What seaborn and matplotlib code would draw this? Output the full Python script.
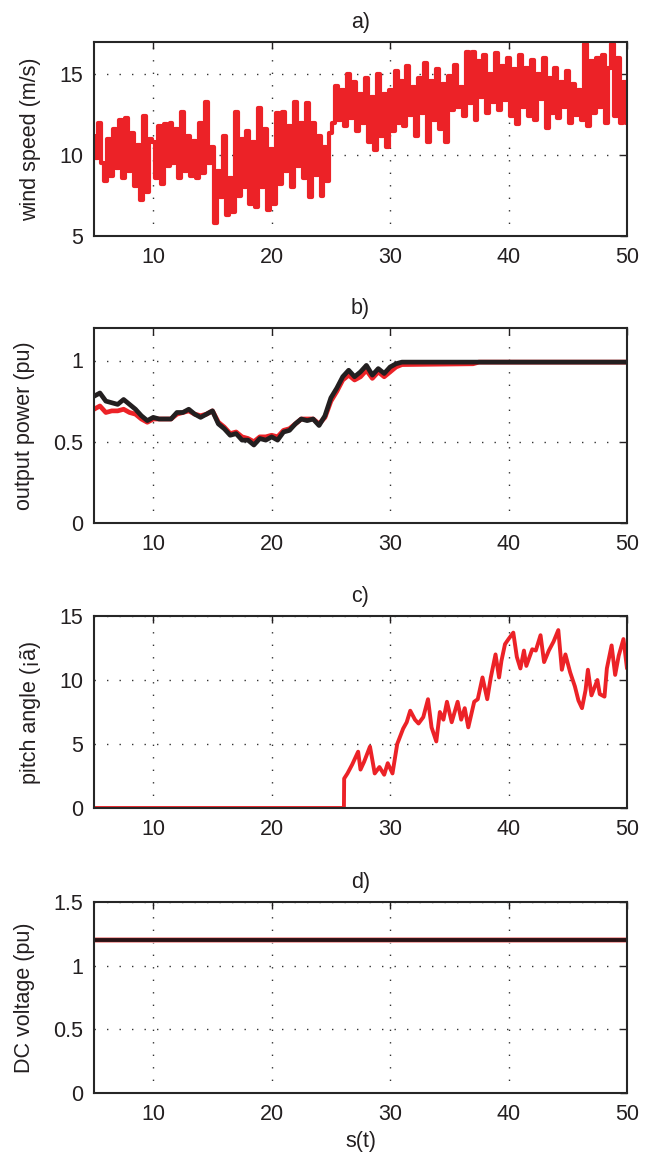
import numpy as np
import pandas as pd
import matplotlib
matplotlib.use('Agg')
import matplotlib.pyplot as plt
import seaborn as sns

# --- données ---
# a) vitesse du vent, échantillonnée tous les 0.25 s de 5 à 50 s
t_wind = np.arange(5, 50.001, 0.25)
wind_speed = [
    11.2, 9.8, 12.0, 9.5, 8.4, 11.0, 8.7, 11.6, 9.2, 12.2, 8.6, 12.3, 9.0, 11.4, 8.1, 10.6, 7.2, 12.4, 7.7, 11.0,
    10.8, 8.6, 11.8, 8.2, 11.9, 9.3, 12.0, 9.5, 11.6, 8.6, 12.7, 9.0, 11.2, 8.7, 10.9, 8.6, 12.0, 8.9, 13.3, 9.5,
    10.5, 5.8, 9.0, 7.4, 11.2, 6.3, 8.6, 6.5, 12.7, 7.5, 11.0, 8.0, 11.5, 7.0, 10.8, 6.8, 12.9, 8.0, 11.6, 6.6,
    10.4, 7.0, 12.6, 8.2, 12.7, 9.0, 11.8, 8.0, 13.3, 9.3, 12.0, 8.6, 13.2, 7.4, 12.0, 8.8, 11.2, 7.5, 10.5, 8.4,
    11.4, 12.0, 14.3, 12.2, 14.0, 11.8, 15.0, 12.3, 14.5, 11.5, 13.8, 12.0, 14.8, 10.8, 13.6, 10.3, 15.0, 11.2, 13.8, 10.5,
    14.0, 11.5, 15.2, 12.0, 14.6, 11.8, 15.5, 12.5, 14.2, 11.2, 14.8, 12.6, 15.7, 10.8, 14.6, 12.2, 15.3, 11.6, 14.4, 10.8,
    14.9, 12.8, 15.6, 13.0, 14.2, 12.4, 16.4, 13.2, 16.4, 12.2, 15.8, 13.6, 16.2, 12.6, 15.0, 13.3, 16.3, 12.8, 15.5, 13.4,
    16.0, 12.4, 15.3, 11.9, 16.2, 13.0, 15.4, 12.4, 15.9, 12.2, 15.0, 13.5, 16.0, 11.7, 14.8, 12.6, 15.4, 12.3, 14.5, 13.0,
    15.2, 12.0, 14.4, 12.5, 14.0, 12.2, 16.9, 11.8, 15.8, 12.6, 16.0, 13.0, 16.2, 12.0, 15.4, 16.9, 12.4, 16.0, 12.0, 14.5, 12.0,
]

# b) puissance de sortie (pu)
t_power = list(np.arange(5, 31.001, 0.5)) + [37.0, 37.5, 50.0]
power_black = [
    0.78, 0.80, 0.75, 0.74, 0.73, 0.76, 0.73, 0.70, 0.66, 0.63, 0.65, 0.64, 0.64, 0.64, 0.68, 0.68, 0.70, 0.67,
    0.65, 0.67, 0.69, 0.61, 0.58, 0.54, 0.55, 0.51, 0.51, 0.48, 0.52, 0.51, 0.53, 0.51, 0.56, 0.57, 0.61, 0.64,
    0.63, 0.64, 0.60, 0.66, 0.77, 0.83, 0.90, 0.94, 0.90, 0.93, 0.97, 0.91, 0.95, 0.92, 0.96, 0.98, 0.99,
    0.99, 0.99, 0.99,
]
power_red = [
    0.70, 0.72, 0.68, 0.69, 0.69, 0.70, 0.68, 0.67, 0.64, 0.62, 0.64, 0.64, 0.64, 0.64, 0.67, 0.68, 0.69, 0.67,
    0.66, 0.67, 0.69, 0.62, 0.59, 0.55, 0.56, 0.53, 0.52, 0.50, 0.53, 0.53, 0.54, 0.53, 0.57, 0.58, 0.61, 0.64,
    0.64, 0.64, 0.61, 0.65, 0.75, 0.81, 0.88, 0.91, 0.88, 0.90, 0.94, 0.89, 0.93, 0.90, 0.93, 0.96, 0.975,
    0.98, 0.99, 0.99,
]

# c) angle de calage
t_pitch = [5.0, 26.1, 26.12, 26.4, 26.8, 27.3, 27.5, 27.8, 28.3, 28.7, 29.1, 29.5, 29.8, 30.2, 30.6, 31.1, 31.4,
           31.7, 32.1, 32.4, 32.8, 33.2, 33.5, 33.9, 34.2, 34.5, 34.8, 35.2, 35.7, 36.0, 36.3, 36.6, 37.1,
           37.4, 37.8, 38.2, 38.5, 38.9, 39.2, 39.4, 39.7, 40.0, 40.4, 40.7, 41.0, 41.3, 41.5, 42.0, 42.3,
           42.7, 43.0, 43.4, 43.8, 44.2, 44.5, 44.8, 45.2, 45.6, 45.9, 46.2, 46.5, 46.7, 47.0, 47.5, 47.7,
           48.1, 48.3, 48.7, 49.0, 49.3, 49.7, 50.0]
pitch_angle = [0.0, 0.0, 2.3, 2.7, 3.4, 4.4, 3.0, 3.6, 4.8, 2.7, 3.2, 2.6, 3.5, 2.7, 5.0, 6.2, 6.7,
               7.6, 6.9, 6.6, 7.1, 8.5, 6.3, 5.2, 7.5, 6.9, 8.3, 6.7, 8.3, 6.9, 7.8, 6.3, 8.3,
               8.5, 10.2, 8.5, 10.2, 12.0, 10.2, 11.5, 12.8, 13.2, 13.7, 11.8, 10.9, 12.3, 11.1, 12.4, 12.3,
               13.5, 11.4, 12.3, 13.0, 13.9, 10.8, 12.0, 10.6, 9.5, 8.4, 7.8, 9.2, 10.8, 8.8, 10.0, 8.9,
               8.7, 10.9, 12.7, 10.4, 11.9, 13.2, 10.9]

# d) tension DC
t_dc = [5.0, 50.0]
dc_voltage = [1.2, 1.2]

RED = '#EC2227'
BLACK = '#231F20'

sns.set_theme(style='white')
plt.rcParams['font.family'] = ['Liberation Sans', 'DejaVu Sans']

fig = plt.figure(figsize=(6.46, 11.64), dpi=100)

W, H = 646, 1164
left, right = 94, 627
tops = [42, 328, 616, 902]
bottoms = [236, 523, 808, 1093]

axes = []
for top, bot in zip(tops, bottoms):
    ax = fig.add_axes([left / W, 1 - bot / H, (right - left) / W, (bot - top) / H])
    axes.append(ax)

df_wind = pd.DataFrame({'t': t_wind, 'v': wind_speed})
sns.lineplot(data=df_wind, x='t', y='v', ax=axes[0], color=RED, lw=3.0,
             estimator=None, sort=False, drawstyle='steps-mid')

df_pow = pd.DataFrame({'t': t_power, 'red': power_red, 'black': power_black})
sns.lineplot(data=df_pow, x='t', y='red', ax=axes[1], color=RED, lw=3.4, estimator=None, sort=False)
sns.lineplot(data=df_pow, x='t', y='black', ax=axes[1], color=BLACK, lw=3.4, estimator=None, sort=False)

df_pitch = pd.DataFrame({'t': t_pitch, 'p': pitch_angle})
sns.lineplot(data=df_pitch, x='t', y='p', ax=axes[2], color=RED, lw=2.8, estimator=None, sort=False)

df_dc = pd.DataFrame({'t': t_dc, 'v': dc_voltage})
sns.lineplot(data=df_dc, x='t', y='v', ax=axes[3], color='#F0A0A0', lw=4.2, estimator=None, sort=False)
sns.lineplot(data=df_dc, x='t', y='v', ax=axes[3], color='#2A1214', lw=2.8, estimator=None, sort=False)

titles = ['a)', 'b)', 'c)', 'd)']
ylabels = ['wind speed (m/s)', 'output power (pu)', 'pitch angle (\u00a1\u00e3)', 'DC voltage (pu)']
ylims = [(5, 17), (0, 1.2), (0, 15), (0, 1.5)]
yticks = [[5, 10, 15], [0, 0.5, 1], [0, 5, 10, 15], [0, 0.5, 1, 1.5]]
yticklabels = [['5', '10', '15'], ['0', '0.5', '1'], ['0', '5', '10', '15'], ['0', '0.5', '1', '1.5']]

for ax, ti, yl, lim, yt, ytl in zip(axes, titles, ylabels, ylims, yticks, yticklabels):
    ax.set_xlim(5, 50)
    ax.set_ylim(*lim)
    ax.set_xticks([10, 20, 30, 40, 50])
    ax.set_yticks(yt)
    ax.set_yticklabels(ytl)
    ax.set_title(ti, fontsize=15.5, pad=10, color=BLACK)
    ax.set_ylabel(yl, fontsize=15.5, labelpad=13, color=BLACK)
    ax.set_xlabel('')
    ax.grid(True, linestyle=(0, (1, 8)), color='#333333', lw=1.0)
    ax.tick_params(direction='in', length=5, width=1, top=True, right=True,
                   labelsize=15.5, pad=8, colors=BLACK)
    for sp in ax.spines.values():
        sp.set_visible(True)
        sp.set_color('#262626')
        sp.set_linewidth(1.5)

axes[3].set_xlabel('s(t)', fontsize=15.5, labelpad=4, color=BLACK)

fig.savefig('out.png', dpi=100)
